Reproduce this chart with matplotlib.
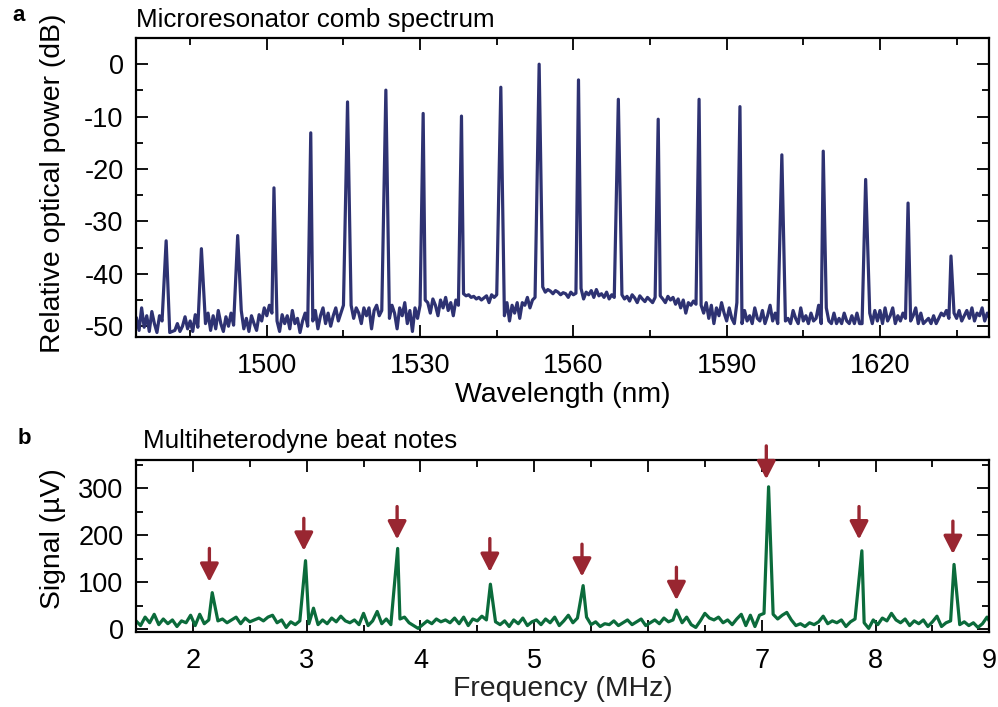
import numpy as np
import matplotlib
matplotlib.use("Agg")
import matplotlib.pyplot as plt
from matplotlib.ticker import MultipleLocator

plt.rcParams['font.family'] = ['Liberation Sans', 'DejaVu Sans']
plt.rcParams['axes.unicode_minus'] = False

# ---------------- Data: panel a (comb spectrum) ----------------
peak_wl = [1480.3, 1487.2, 1494.3, 1501.4, 1508.6, 1515.8, 1523.3, 1530.6, 1538.1,
           1545.8, 1553.3, 1561.0, 1568.8, 1576.6, 1584.6, 1592.6, 1600.8, 1608.9,
           1617.2, 1625.5, 1633.9]
peak_db = [-33.7, -35.2, -32.7, -23.6, -13.1, -7.2, -4.95, -9.4, -9.9,
           -4.4, 0.0, -3.0, -6.7, -10.5, -6.7, -8.1, -17.3, -16.6,
           -22.0, -26.5, -36.6]

WL_START = 1474.5
WL_STEP = 0.5
base_db = [
    -48.5, -50.8, -46.5, -50.2, -48.0, -51.0, -47.2, -49.5, -51.2, -48.0,
    -49.0, -47.5, -50.5, -51.2, -51.0, -50.8, -49.5, -51.0, -50.0, -48.2,
    -50.5, -49.0, -51.0, -47.8, -50.2, -48.5, -51.0, -49.5, -47.5, -50.8,
    -48.0, -50.5, -47.0, -49.5, -51.0, -48.2, -50.0, -47.5, -49.8, -51.0,
    -49.5, -47.0, -50.5, -48.5, -51.0, -48.0, -49.5, -50.8, -47.8, -49.0,
    -46.5, -48.0, -46.0, -47.5, -50.5, -49.0, -51.0, -47.8, -49.5, -48.0,
    -50.5, -47.0, -49.5, -48.5, -51.2, -49.0, -47.5, -50.0, -48.5, -49.0,
    -47.0, -50.5, -48.0, -46.5, -49.5, -47.5, -50.0, -48.0, -46.5, -49.0,
    -47.5, -46.0, -48.5, -47.0, -46.0, -48.5, -46.5, -47.5, -49.5, -46.5,
    -48.0, -46.5, -50.5, -47.0, -46.0, -48.0, -47.0, -46.5, -47.0, -48.5,
    -46.0, -47.5, -50.5, -46.5, -48.0, -45.5, -49.5, -47.0, -51.0, -46.5,
    -48.5, -46.0, -47.0, -45.0, -45.5, -47.5, -44.8, -46.0, -48.0, -45.0,
    -46.5, -44.5, -47.0, -45.5, -48.0, -45.0, -46.0, -44.0, -43.8, -44.2,
    -44.0, -44.5, -44.3, -44.8, -44.5, -45.0, -44.6, -44.2, -45.5, -44.0,
    -44.5, -44.0, -46.0, -45.0, -48.0, -45.5, -49.0, -46.0, -47.5, -45.5,
    -48.5, -45.5, -46.0, -44.5, -46.5, -45.0, -44.5, -42.8, -43.0, -42.5,
    -43.5, -43.0, -43.3, -43.8, -43.2, -43.5, -44.0, -43.6, -43.8, -44.5,
    -43.5, -44.0, -43.7, -43.5, -42.8, -44.8, -43.5, -44.0, -43.2, -44.5,
    -43.0, -44.2, -43.8, -44.5, -43.5, -44.8, -44.0, -44.5, -43.5, -44.5,
    -44.0, -44.8, -44.3, -45.2, -44.0, -44.6, -45.5, -44.2, -44.8, -45.3,
    -44.5, -45.0, -45.5, -44.5, -46.0, -44.2, -44.8, -45.5, -44.3, -45.0,
    -44.5, -45.8, -44.8, -46.5, -45.0, -47.5, -45.5, -46.0, -45.2, -45.8,
    -45.0, -46.0, -47.5, -45.5, -48.5, -46.0, -49.5, -46.5, -48.0, -45.5,
    -47.5, -49.0, -46.5, -48.5, -49.5, -45.5, -48.0, -49.5, -47.0, -49.0,
    -48.0, -49.5, -46.5, -48.5, -49.0, -47.0, -49.5, -48.0, -46.0, -49.0,
    -47.5, -49.5, -48.0, -46.0, -49.0, -48.5, -49.5, -47.0, -48.5, -49.5,
    -46.5, -49.0, -48.0, -49.5, -47.5, -49.0, -48.5, -46.0, -49.5, -48.0,
    -46.5, -49.0, -49.5, -47.5, -49.5, -48.5, -49.5, -47.5, -49.0, -49.5,
    -48.0, -49.5, -47.5, -49.5, -49.5, -49.0, -48.5, -47.5, -49.5, -47.0,
    -49.0, -47.0, -49.5, -46.5, -49.0, -48.0, -46.5, -49.5, -48.0, -49.0,
    -47.5, -48.5, -46.0, -49.0, -48.0, -46.5, -49.5, -47.5, -49.5, -49.0,
    -48.5, -49.5, -48.0, -49.5, -48.5, -47.5, -48.0, -47.0, -48.5, -47.5,
    -47.5, -48.5, -47.0, -49.0, -48.0, -47.0, -48.5, -46.5, -49.0, -47.5,
    -48.0, -46.5, -49.0, -47.5, -48.5,
]

# ---------------- Data: panel b (beat notes) ----------------
beat_f = [2.17, 2.99, 3.80, 4.615, 5.43, 6.25, 7.06, 7.88, 8.69]
beat_uv = [78, 146, 172, 96, 93, 41, 303, 167, 138]
arrow_f = [2.145, 2.975, 3.795, 4.61, 5.42, 6.25, 7.04, 7.855, 8.68]
arrow_tip = [101, 167, 191, 122, 112, 62, 319, 191, 160]
arrow_tail = [172, 236, 261, 193, 181, 132, 390, 261, 230]

F_START = 1.50
F_STEP = 0.04
base_uv = [
    18, 8, 26, 14, 32, 10, 22, 12, 20, 6,
    18, 14, 30, 8, 32, 12, 20, 22, 18, 22,
    14, 20, 26, 12, 24, 16, 20, 24, 18, 26,
    30, 14, 20, 4, 16, 10, 18, 14, 12, 45,
    10, 20, 12, 24, 16, 28, 18, 14, 20, 10,
    34, 8, 18, 38, 12, 22, 10, 18, 22, 26,
    14, 8, 2, 10, 18, 12, 22, 16, 20, 14,
    24, 12, 26, 8, 22, 18, 28, 20, 20, 16,
    10, 18, 6, 20, 12, 24, 8, 16, 20, 10,
    22, 14, 26, 8, 18, 30, 14, 24, 20, 26,
    10, 16, 6, 12, 10, 18, 8, 14, 20, 10,
    16, 22, 8, 14, 20, 12, 24, 16, 20, 30,
    14, 26, 10, 4, 18, 34, 24, 20, 26, 14,
    20, 10, 22, 32, 8, 30, 6, 30, 34, 20,
    32, 22, 30, 36, 20, 8, 12, 6, 14, 10,
    16, 28, 12, 18, 14, 20, 6, 16, 22, 18,
    14, 2, 20, 10, 24, 18, 34, 20, 14, 22,
    8, 18, 12, 20, 6, 16, 28, 6, 14, 18,
    22, 10, 16, 8, 14, 4, 12, 26, 10,
]

NAVY = '#2e3272'
GREEN = '#0b6b3b'
RED = '#992631'

W, H = 998, 707
fig = plt.figure(figsize=(W / 100, H / 100), dpi=100)


def px_axes(l, t, r, b):
    return fig.add_axes([l / W, 1 - b / H, (r - l) / W, (b - t) / H])


def build_trace(bx, by, px, py, excl):
    bx = np.asarray(bx, float)
    by = np.asarray(by, float)
    px = np.asarray(px, float)
    py = np.asarray(py, float)
    d = np.min(np.abs(bx[:, None] - px[None, :]), axis=1)
    keep = d > excl
    x = np.concatenate([bx[keep], px])
    y = np.concatenate([by[keep], py])
    o = np.argsort(x)
    return x[o], y[o]


def style_axes(ax):
    for s in ax.spines.values():
        s.set_linewidth(1.6)
    ax.tick_params(which='both', direction='in', top=True, right=True,
                   width=1.3, colors='black', labelsize=19.5)
    ax.tick_params(which='major', length=8.5)
    ax.tick_params(which='minor', length=4.8)
    ax.tick_params(axis='x', pad=11.5)
    ax.tick_params(axis='y', pad=9)


# ---------------- Panel a ----------------
ax1 = px_axes(136, 38, 989.3, 336.7)
wl_base = WL_START + WL_STEP * np.arange(len(base_db))
x1, y1 = build_trace(wl_base, base_db, peak_wl, peak_db, 0.3)
ax1.plot(x1, y1, color=NAVY, lw=2.3, solid_joinstyle='round')
ax1.set_xlim(1474.4, 1641.4)
ax1.set_ylim(-52, 5)
ax1.xaxis.set_major_locator(MultipleLocator(30))
ax1.xaxis.set_minor_locator(MultipleLocator(15))
ax1.yaxis.set_major_locator(MultipleLocator(10))
ax1.yaxis.set_minor_locator(MultipleLocator(5))
style_axes(ax1)

fig.text(136 / W, 1 - 27 / H, 'Microresonator comb spectrum', fontsize=18.7,
         ha='left', va='baseline')
fig.text(12 / W, 1 - 21 / H, 'a', fontsize=16, fontweight='bold',
         ha='left', va='baseline')
fig.text(53 / W, 1 - 183 / H, 'Relative optical power (dB)', fontsize=20.4,
         rotation=90, ha='center', va='center')
fig.text(562.5 / W, 1 - 402 / H, 'Wavelength (nm)', fontsize=20.4,
         ha='center', va='baseline')

# ---------------- Panel b ----------------
ax2 = px_axes(136, 460, 989.3, 631.7)
f_base = F_START + F_STEP * np.arange(len(base_uv))
x2, y2 = build_trace(f_base, base_uv, beat_f, beat_uv, 0.02)
ax2.plot(x2, y2, color=GREEN, lw=2.3, solid_joinstyle='round')
ax2.set_xlim(1.5, 9.0)
ax2.set_ylim(-5, 360)
ax2.xaxis.set_major_locator(MultipleLocator(1))
ax2.xaxis.set_minor_locator(MultipleLocator(0.5))
ax2.yaxis.set_major_locator(MultipleLocator(100))
ax2.yaxis.set_minor_locator(MultipleLocator(50))
style_axes(ax2)

for xf, tip, tail in zip(arrow_f, arrow_tip, arrow_tail):
    ax2.annotate('', xy=(xf, tip), xytext=(xf, tail), annotation_clip=False,
                 arrowprops=dict(arrowstyle='-|>,head_width=0.4,head_length=0.78',
                                 mutation_scale=14, lw=2.4, color=RED,
                                 shrinkA=0, shrinkB=0, clip_on=False))

fig.text(143 / W, 1 - 448 / H, 'Multiheterodyne beat notes', fontsize=18.7,
         ha='left', va='baseline')
fig.text(18 / W, 1 - 444 / H, 'b', fontsize=16, fontweight='bold',
         ha='left', va='baseline')
fig.text(53 / W, 1 - 539 / H, 'Signal (\u00b5V)', fontsize=20.4,
         rotation=90, ha='center', va='center')
fig.text(562.5 / W, 1 - 696 / H, 'Frequency (MHz)', fontsize=20.4,
         ha='center', va='baseline', color='#222222')

fig.savefig('out.png', dpi=100)
